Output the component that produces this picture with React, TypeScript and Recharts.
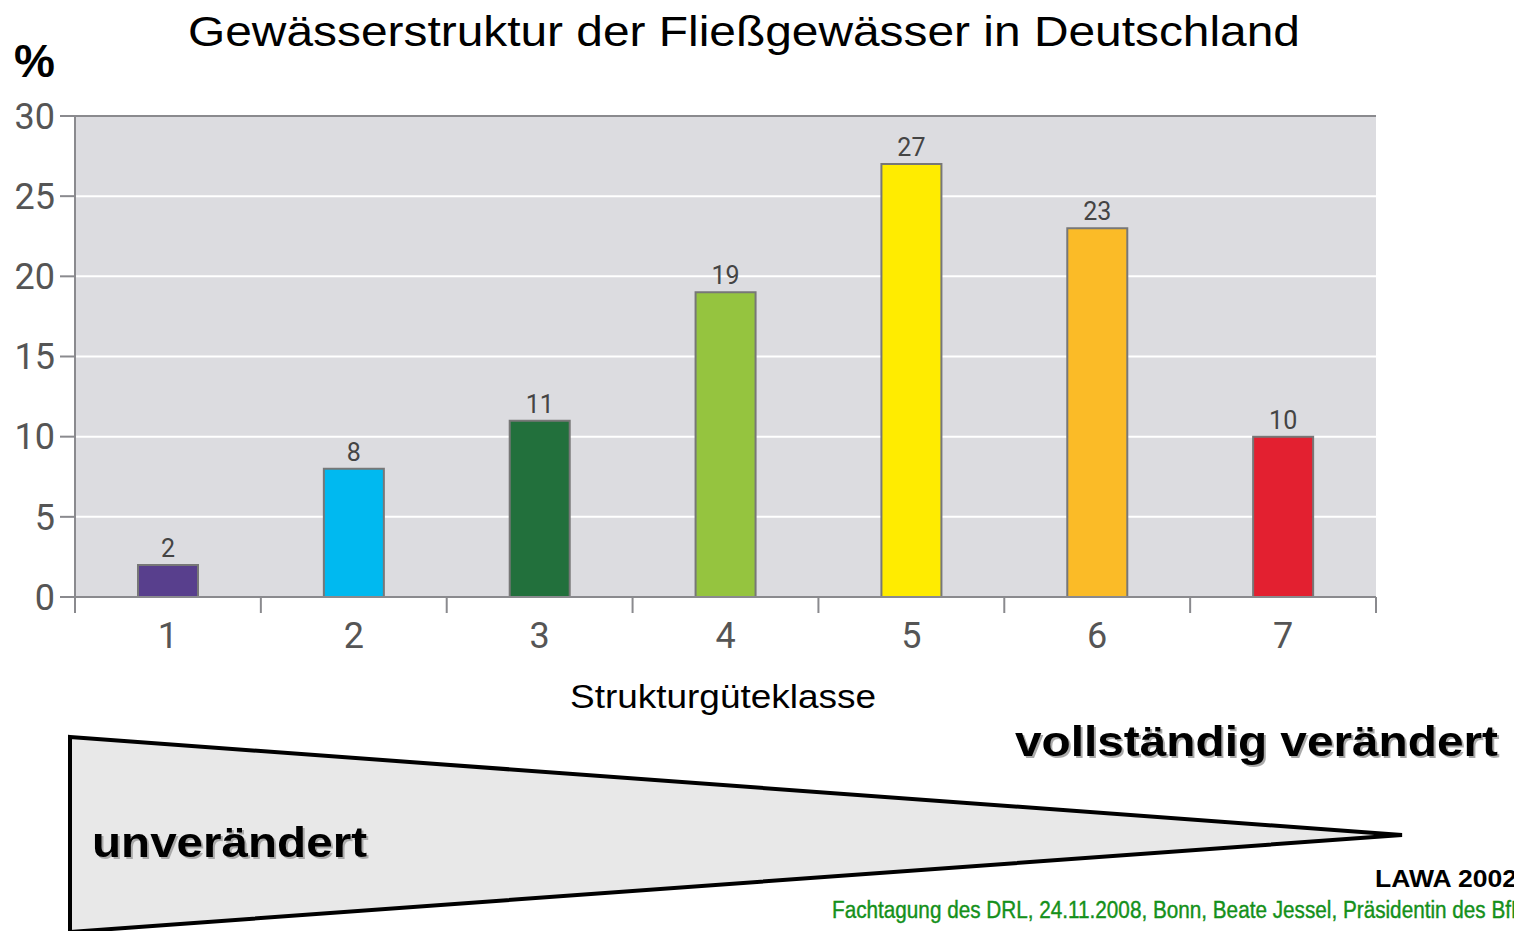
import React from 'react'
import { BarChart, Bar, XAxis, YAxis, CartesianGrid, ReferenceLine, LabelList, Cell } from 'recharts'

// Strukturgüteklassen (LAWA 2002)
const classes = ['1', '2', '3', '4', '5', '6', '7']
const shares = [2, 8, 11, 19, 27, 23, 10]
const yTicks = [0, 5, 10, 15, 20, 25, 30]

const palette = ['#583f8d', '#00b9f0', '#22703c', '#95c43f', '#ffec00', '#fbbb27', '#e32030']

const data = classes.map((c, i) => ({ name: c, value: shares[i] }))

const W = 1514
const H = 931
const M_TOP = 116
const M_RIGHT = 138
const Y_W = 75
const X_H = 334
const PLOT_BOTTOM = H - X_H
const BAND = (W - Y_W - M_RIGHT) / classes.length

const AXIS_GRAY = '#8a8a8e'
const TICK_FONT = 'Roboto, "DejaVu Sans", sans-serif'

const XTick = (props: any) => {
  const { x, payload, index } = props
  const left = x - BAND / 2
  return (
    <g>
      <line x1={left} x2={left} y1={PLOT_BOTTOM} y2={PLOT_BOTTOM + 16} stroke={AXIS_GRAY} strokeWidth={2} />
      {index === classes.length - 1 && (
        <line x1={x + BAND / 2} x2={x + BAND / 2} y1={PLOT_BOTTOM} y2={PLOT_BOTTOM + 16} stroke={AXIS_GRAY} strokeWidth={2} />
      )}
      <text x={x} y={PLOT_BOTTOM + 51} textAnchor="middle" fill="#555" fontSize={36} fontFamily={TICK_FONT}>
        {payload.value}
      </text>
    </g>
  )
}

const shadow = { filter: 'drop-shadow(2px 2px 0px #aaa)' }
const stretch = 'spacingAndGlyphs'

export default function App() {
  return (
    <div style={{ position: 'absolute', left: 0, top: 0, width: W, height: H, background: '#fff', overflow: 'hidden' }}>
      <BarChart width={W} height={H} data={data} margin={{ top: M_TOP, right: M_RIGHT, left: 0, bottom: 0 }}>
        <CartesianGrid fill="#dcdce0" stroke="#ffffff" strokeWidth={2} vertical={false} />
        <XAxis
          dataKey="name"
          height={X_H}
          axisLine={{ stroke: AXIS_GRAY, strokeWidth: 2 }}
          tickLine={false}
          tick={<XTick />}
          interval={0}
        />
        <YAxis
          width={Y_W}
          domain={[0, 30]}
          ticks={yTicks}
          interval={0}
          tickSize={15}
          tickMargin={5}
          axisLine={{ stroke: AXIS_GRAY, strokeWidth: 2 }}
          tickLine={{ stroke: AXIS_GRAY, strokeWidth: 2 }}
          tick={{ fill: '#555', fontSize: 36, fontFamily: TICK_FONT }}
        />
        <YAxis
          yAxisId="right"
          orientation="right"
          width={0}
          domain={[0, 30]}
          tick={false}
          tickLine={false}
          axisLine={{ stroke: AXIS_GRAY, strokeWidth: 2 }}
        />
        <ReferenceLine y={30} stroke={AXIS_GRAY} strokeWidth={2} />
        <Bar dataKey="value" barSize={60} stroke="#777" strokeWidth={2} isAnimationActive={false}>
          {data.map((d, i) => (
            <Cell key={d.name} fill={palette[i]} />
          ))}
          <LabelList dataKey="value" position="top" offset={8} fill="#444" fontSize={25} fontFamily={TICK_FONT} />
        </Bar>
      </BarChart>

      <svg width={W} height={H} style={{ position: 'absolute', left: 0, top: 0, pointerEvents: 'none' }}
        fontFamily='"Liberation Sans", Arial, sans-serif'>
        <text x={188} y={46} fontSize={42} fill="#000" textLength={1112} lengthAdjust={stretch}>
          Gewässerstruktur der Fließgewässer in Deutschland
        </text>
        <text x={14} y={77} fontSize={46} fontWeight="bold" fill="#000">%</text>
        <text x={570} y={708} fontSize={34} fill="#000" textLength={306} lengthAdjust={stretch}>
          Strukturgüteklasse
        </text>

        <polygon points="70,737 1402,835 70,932" fill="#e8e8e8" stroke="#000" strokeWidth={4} strokeLinejoin="miter" />

        <text x={1015} y={756} fontSize={42} fontWeight="bold" fill="#000" style={shadow}
          textLength={483} lengthAdjust={stretch}>
          vollständig verändert
        </text>
        <text x={92} y={857} fontSize={42} fontWeight="bold" fill="#000" style={shadow}
          textLength={275} lengthAdjust={stretch}>
          unverändert
        </text>
        <text x={1375} y={887} fontSize={23} fontWeight="bold" fill="#000" textLength={142} lengthAdjust={stretch}>
          LAWA 2002
        </text>
        <text x={832} y={918} fontSize={23} fill="#14901a" stroke="#14901a" strokeWidth={0.4}
          textLength={694} lengthAdjust={stretch}>
          Fachtagung des DRL, 24.11.2008, Bonn, Beate Jessel, Präsidentin des BfN
        </text>
      </svg>
    </div>
  )
}
